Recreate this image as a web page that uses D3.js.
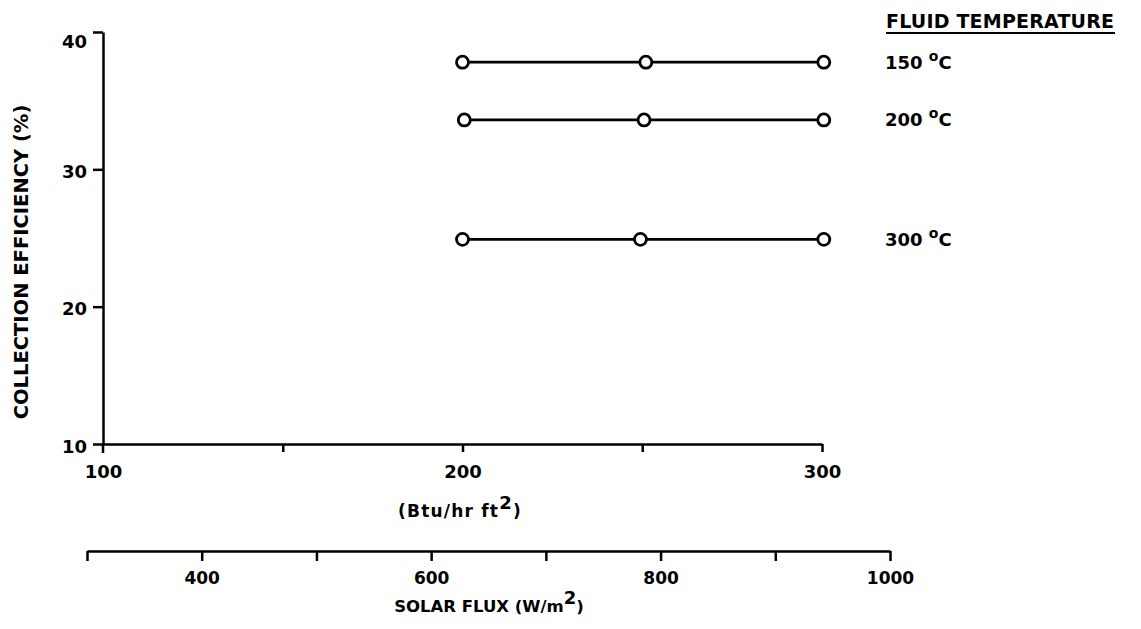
<!DOCTYPE html>
<html>
<head>
<meta charset="utf-8">
<script src="https://cdn.jsdelivr.net/npm/d3@7/dist/d3.min.js"></script>
<style>
  html, body { margin: 0; padding: 0; background: #fff; }
  svg text { font-family: "DejaVu Sans", "Liberation Sans", Arial, sans-serif; font-weight: bold; fill: #000; }
</style>
</head>
<body>
<script>
// Collection efficiency versus solar flux, one line per fluid temperature
const temperatures = ["150", "200", "300"];
const fluxBtu150 = [200, 251, 300.5];
const fluxBtu200 = [200.5, 250.5, 300.5];
const fluxBtu300 = [200, 249.5, 300.5];
const efficiency150 = [37.8, 37.8, 37.8];
const efficiency200 = [33.6, 33.6, 33.6];
const efficiency300 = [24.9, 24.9, 24.9];
const btuTicks = [100, 150, 200, 250, 300];
const btuTickLabels = ["100", "", "200", "", "300"];
const efficiencyTicks = [10, 20, 30, 40];
const wattTicks = [300, 400, 500, 600, 700, 800, 900, 1000];
const wattTickLabels = ["", "400", "", "600", "", "800", "", "1000"];

const W = 1141, H = 629;
const FONT = "DejaVu Sans, Liberation Sans, Arial, sans-serif";
const svg = d3.select("body").append("svg").attr("width", W).attr("height", H);

const x = d3.scaleLinear().domain([100, 300]).range([103, 822]);
const y = d3.scaleLinear().domain([10, 40]).range([444, 32]);
const xW = d3.scaleLinear().domain([300, 1000]).range([87, 890]);

const styleAxis = size => g => {
  g.select(".domain").attr("stroke", "#000").attr("stroke-width", 2.5);
  g.selectAll(".tick line").attr("stroke", "#000").attr("stroke-width", 2.5);
  g.selectAll(".tick text")
    .attr("font-size", size)
    .attr("font-family", FONT)
    .attr("font-weight", "bold");
};

// Efficiency axis
svg.append("g")
  .attr("transform", `translate(${x(100)},0)`)
  .call(d3.axisLeft(y).tickValues(efficiencyTicks).tickSize(10).tickSizeOuter(0).tickPadding(6))
  .call(styleAxis(18))
  .call(g => g.selectAll(".tick text").attr("dy", d => d === 40 ? "0.85em" : "0.45em"));

// Efficiency axis runs a little past the flux axis
svg.append("line")
  .attr("x1", x(100)).attr("x2", x(100))
  .attr("y1", y(10)).attr("y2", y(10) + 9)
  .attr("stroke", "#000").attr("stroke-width", 2.5);

// Btu flux axis
svg.append("g")
  .attr("transform", `translate(0,${y(10)})`)
  .call(d3.axisBottom(x).tickValues(btuTicks).tickFormat((d, i) => btuTickLabels[i]).tickSize(8).tickSizeOuter(0).tickPadding(13))
  .call(styleAxis(18))
  .call(g => g.selectAll(".tick").filter(d => d === 100).select("line").remove());

// SI flux axis
svg.append("g")
  .attr("transform", "translate(0,551)")
  .call(d3.axisBottom(xW).tickValues(wattTicks).tickFormat((d, i) => wattTickLabels[i]).tickSize(10).tickSizeOuter(0).tickPadding(11))
  .call(styleAxis(17));

// Data series
const series = [
  { t: temperatures[0], xs: fluxBtu150, ys: efficiency150 },
  { t: temperatures[1], xs: fluxBtu200, ys: efficiency200 },
  { t: temperatures[2], xs: fluxBtu300, ys: efficiency300 }
];

const line = d3.line().x(d => x(d[0])).y(d => y(d[1]));

series.forEach(s => {
  const pts = s.xs.map((v, i) => [v, s.ys[i]]);
  svg.append("path")
    .attr("d", line(pts))
    .attr("fill", "none")
    .attr("stroke", "#000")
    .attr("stroke-width", 2.8);
  svg.selectAll(null).data(pts).enter().append("circle")
    .attr("cx", d => x(d[0])).attr("cy", d => y(d[1]))
    .attr("r", 6)
    .attr("fill", "#fff")
    .attr("stroke", "#000")
    .attr("stroke-width", 2.8);

  const lab = svg.append("text")
    .attr("x", 885).attr("y", y(s.ys[2]) + 6.5)
    .attr("font-size", 18);
  lab.append("tspan").text(s.t + " ");
  lab.append("tspan").attr("font-size", 14).attr("dy", -8).text("o");
  lab.append("tspan").attr("dy", 8).text("C");
});

// Legend heading
svg.append("text")
  .attr("x", 886).attr("y", 28)
  .attr("font-size", 19)
  .attr("textLength", 228)
  .attr("lengthAdjust", "spacing")
  .text("FLUID TEMPERATURE");
svg.append("line")
  .attr("x1", 886).attr("x2", 1115)
  .attr("y1", 33).attr("y2", 33)
  .attr("stroke", "#000").attr("stroke-width", 2);

// Axis titles
const t1 = svg.append("text")
  .attr("x", 460).attr("y", 517)
  .attr("text-anchor", "middle")
  .attr("font-size", 17)
  .attr("letter-spacing", 1.2);
t1.append("tspan").text("(Btu/hr ft");
t1.append("tspan").attr("font-size", 18).attr("dy", -8).text("2");
t1.append("tspan").attr("dy", 8).text(")");

const t2 = svg.append("text")
  .attr("x", 489).attr("y", 612)
  .attr("text-anchor", "middle")
  .attr("font-size", 16.5);
t2.append("tspan").text("SOLAR FLUX (W/m");
t2.append("tspan").attr("font-size", 18).attr("dy", -8).text("2");
t2.append("tspan").attr("dy", 8).text(")");

svg.append("text")
  .attr("transform", "translate(28,262) rotate(-90)")
  .attr("text-anchor", "middle")
  .attr("font-size", 19.5)
  .text("COLLECTION EFFICIENCY (%)");
</script>
</body>
</html>
